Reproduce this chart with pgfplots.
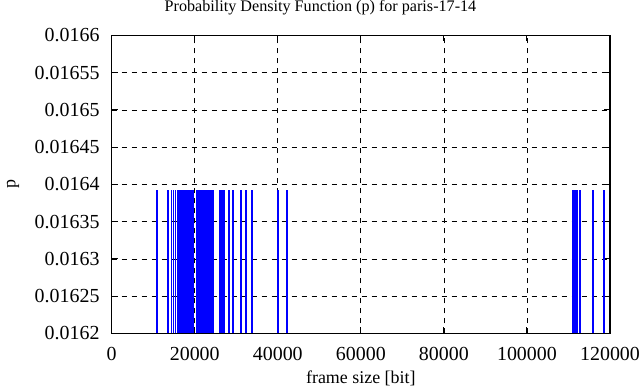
\documentclass[border=0pt]{standalone}
\usepackage{pgfplots}
\pgfplotsset{compat=1.18}
\usepackage{pgfplotstable}
\usepackage{fontspec}
\setmainfont{Liberation Serif}
\pgfplotstableread{
x y
10840 0.016393
13560 0.016393
14400 0.016393
14880 0.016393
15360 0.016393
15960 0.016393
16170 0.016393
16380 0.016393
16580 0.016393
16790 0.016393
17000 0.016393
17210 0.016393
17420 0.016393
17620 0.016393
17830 0.016393
18040 0.016393
18250 0.016393
18460 0.016393
18660 0.016393
18870 0.016393
19080 0.016393
19290 0.016393
19500 0.016393
20500 0.016393
20700 0.016393
20900 0.016393
21100 0.016393
21300 0.016393
21500 0.016393
21700 0.016393
21900 0.016393
22100 0.016393
22300 0.016393
22500 0.016393
22700 0.016393
22900 0.016393
23100 0.016393
23300 0.016393
23500 0.016393
23700 0.016393
23900 0.016393
24100 0.016393
24300 0.016393
24500 0.016393
26080 0.016393
26560 0.016393
27040 0.016393
28320 0.016393
29280 0.016393
31210 0.016393
32400 0.016393
33860 0.016393
40120 0.016393
42140 0.016393
111150 0.016393
111490 0.016393
111800 0.016393
112110 0.016393
112770 0.016393
115820 0.016393
118540 0.016393
}\pdfdata
\begin{document}
\begin{tikzpicture}[font=\fontsize{18}{21}\selectfont]
\begin{axis}[
  name=ax,
  scale only axis,
  width=498.3bp, height=298bp,
  xmin=0, xmax=120000,
  ymin=0.0162, ymax=0.0166,
  xtick={0,20000,40000,60000,80000,100000,120000},
  ytick={0.0162,0.01625,0.0163,0.01635,0.0164,0.01645,0.0165,0.01655,0.0166},
  scaled x ticks=false, scaled y ticks=false,
  /pgf/number format/assume math mode=true,
  tick label style={font=\fontsize{20}{24}\selectfont},
  xticklabel style={/pgf/number format/1000 sep={}, /pgf/number format/fixed, anchor=center, inner sep=0pt, yshift=-21bp},
  yticklabel style={/pgf/number format/fixed, /pgf/number format/precision=5, anchor=east, inner sep=0pt, xshift=-12bp},
  tick align=inside,
  major tick length=6bp,
  tick style={black, line width=1bp},
  axis line style={black, line width=1.5bp},
  grid=major,
  major grid style={black, line width=0.8bp, dash pattern=on 5bp off 5bp},
  title={Probability Density Function (p) for paris-17-14},
  title style={at={(axis description cs:0.419,1.074)}, anchor=center, inner sep=0pt, font=\fontsize{16.2}{19}\selectfont},
  xlabel={frame size [bit]},
  xlabel style={at={(axis description cs:0.5,0)}, anchor=center, inner sep=0pt, yshift=-45bp},
  ylabel={p},
  ylabel style={at={(axis description cs:-0.198,0.5)}, anchor=center, inner sep=0pt},
]
\addplot[ycomb, color={rgb,255:red,0;green,0;blue,255}, line width=1.8bp, mark=none] table[x=x,y=y] {\pdfdata};
\end{axis}
\path (ax.south west) ++(-111.7bp,-57bp) coordinate (bl);
\path (ax.south west) ++(529.3bp,330bp) coordinate (tr);
\path (bl) rectangle (tr);
\end{tikzpicture}
\end{document}
